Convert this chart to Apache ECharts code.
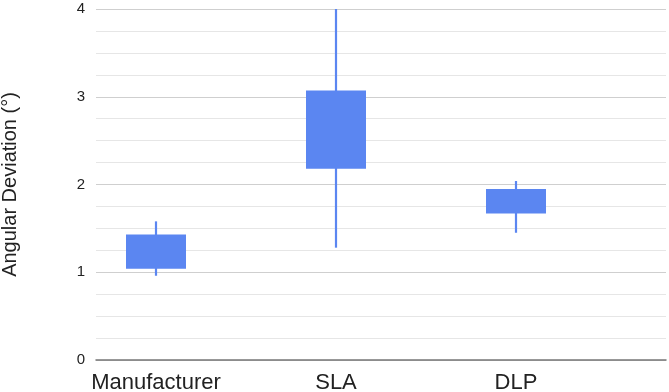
<!DOCTYPE html>
<html>
<head>
<meta charset="utf-8">
<script src="https://cdn.jsdelivr.net/npm/echarts@6/dist/echarts.min.js"></script>
<style>
  html, body { margin: 0; padding: 0; background: #fff; }
  #main { width: 669px; height: 392px; }
</style>
</head>
<body>
<div id="main"></div>
<script>
// 数据
var categories = ['Manufacturer', 'SLA', 'DLP'];
var lowValues = [0.96, 1.28, 1.45];
var openValues = [1.04, 2.18, 1.67];
var closeValues = [1.43, 3.07, 1.95];
var highValues = [1.58, 4.0, 2.04];
var yTicks = [0, 1, 2, 3, 4];

var boxColor = '#5b86f1';

var seriesData = categories.map(function (c, i) {
  return [i, lowValues[i], openValues[i], closeValues[i], highValues[i]];
});

var myChart = echarts.init(document.getElementById('main'));
var option = {
  animation: false,
  textStyle: { fontFamily: 'Liberation Sans, Arial, sans-serif' },
  grid: { left: 96, right: 3, top: 9, bottom: 32, containLabel: false, outerBoundsMode: 'none' },
  xAxis: {
    type: 'value',
    min: -1 / 3,
    max: 2 + 150 / 180,
    axisLine: { show: true, onZero: false, lineStyle: { color: '#777', width: 1.5 } },
    axisTick: { show: false },
    splitLine: { show: false },
    axisLabel: {
      customValues: [0, 1, 2],
      formatter: function (v) { return categories[Math.round(v)]; },
      color: '#222',
      fontSize: 22,
      margin: 12
    }
  },
  yAxis: {
    type: 'value',
    min: yTicks[0],
    max: yTicks[yTicks.length - 1],
    interval: 1,
    name: 'Angular Deviation (°)',
    nameLocation: 'middle',
    nameGap: 76,
    nameTextStyle: { fontSize: 20, color: '#222' },
    axisLine: { show: false },
    axisTick: { show: false },
    axisLabel: { color: '#222', fontSize: 15, margin: 11 },
    splitLine: { lineStyle: { color: '#cfcfcf', width: 1 } },
    minorTick: { show: false, splitNumber: 4 },
    minorSplitLine: { show: true, lineStyle: { color: '#e6e6e6', width: 1 } }
  },
  series: [{
    type: 'custom',
    data: seriesData,
    encode: { x: 0, y: [1, 2, 3, 4] },
    renderItem: function (params, api) {
      var x = api.value(0);
      var low = api.coord([x, api.value(1)]);
      var open = api.coord([x, api.value(2)]);
      var close = api.coord([x, api.value(3)]);
      var high = api.coord([x, api.value(4)]);
      var halfW = api.size([1, 0])[0] * (60 / 180) / 2;
      return {
        type: 'group',
        children: [{
          type: 'line',
          shape: { x1: low[0], y1: low[1], x2: high[0], y2: high[1] },
          style: { stroke: boxColor, lineWidth: 2.2 }
        }, {
          type: 'rect',
          shape: { x: open[0] - halfW, y: close[1], width: halfW * 2, height: open[1] - close[1] },
          style: { fill: boxColor }
        }]
      };
    }
  }]
};
option && myChart.setOption(option);
</script>
</body>
</html>
